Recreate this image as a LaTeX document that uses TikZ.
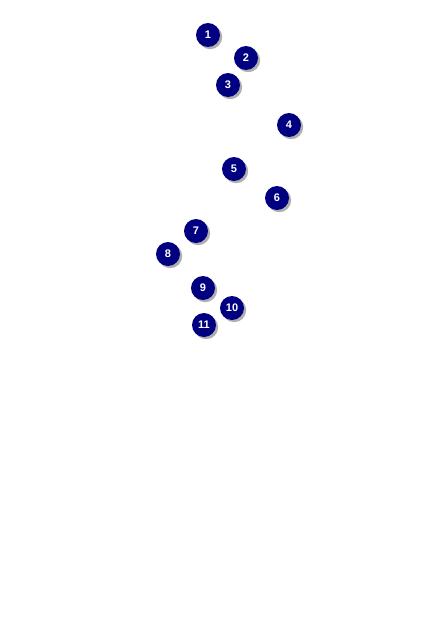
\documentclass[tikz,border=0pt]{standalone}
\usepackage{fontspec}
\setmainfont{Liberation Sans}
\usetikzlibrary{shadows}
\tikzset{
  badge/.style={circle, fill={rgb,255:red,0;green,0;blue,128}, minimum size=24pt, inner sep=0pt,
    text=white, font=\fontsize{11}{11}\selectfont\bfseries,
    drop shadow={shadow xshift=2.2pt, shadow yshift=-2.2pt, fill=gray!70, opacity=0.9}}
}
\begin{document}
\begin{tikzpicture}[x=1pt,y=-1pt]
\useasboundingbox (0,0) rectangle (442,624);
\node[badge] (n1) at (208,35) {1};
\node[badge] (n2) at (246,58) {2};
\node[badge] (n3) at (228,85) {3};
\node[badge] (n4) at (289,125) {4};
\node[badge] (n5) at (234,169) {5};
\node[badge] (n6) at (277,198) {6};
\node[badge] (n7) at (196,231) {7};
\node[badge] (n8) at (168,254) {8};
\node[badge] (n9) at (203,288) {9};
\node[badge] (n10) at (232,308) {10};
\node[badge] (n11) at (204,325) {11};
\end{tikzpicture}
\end{document}
